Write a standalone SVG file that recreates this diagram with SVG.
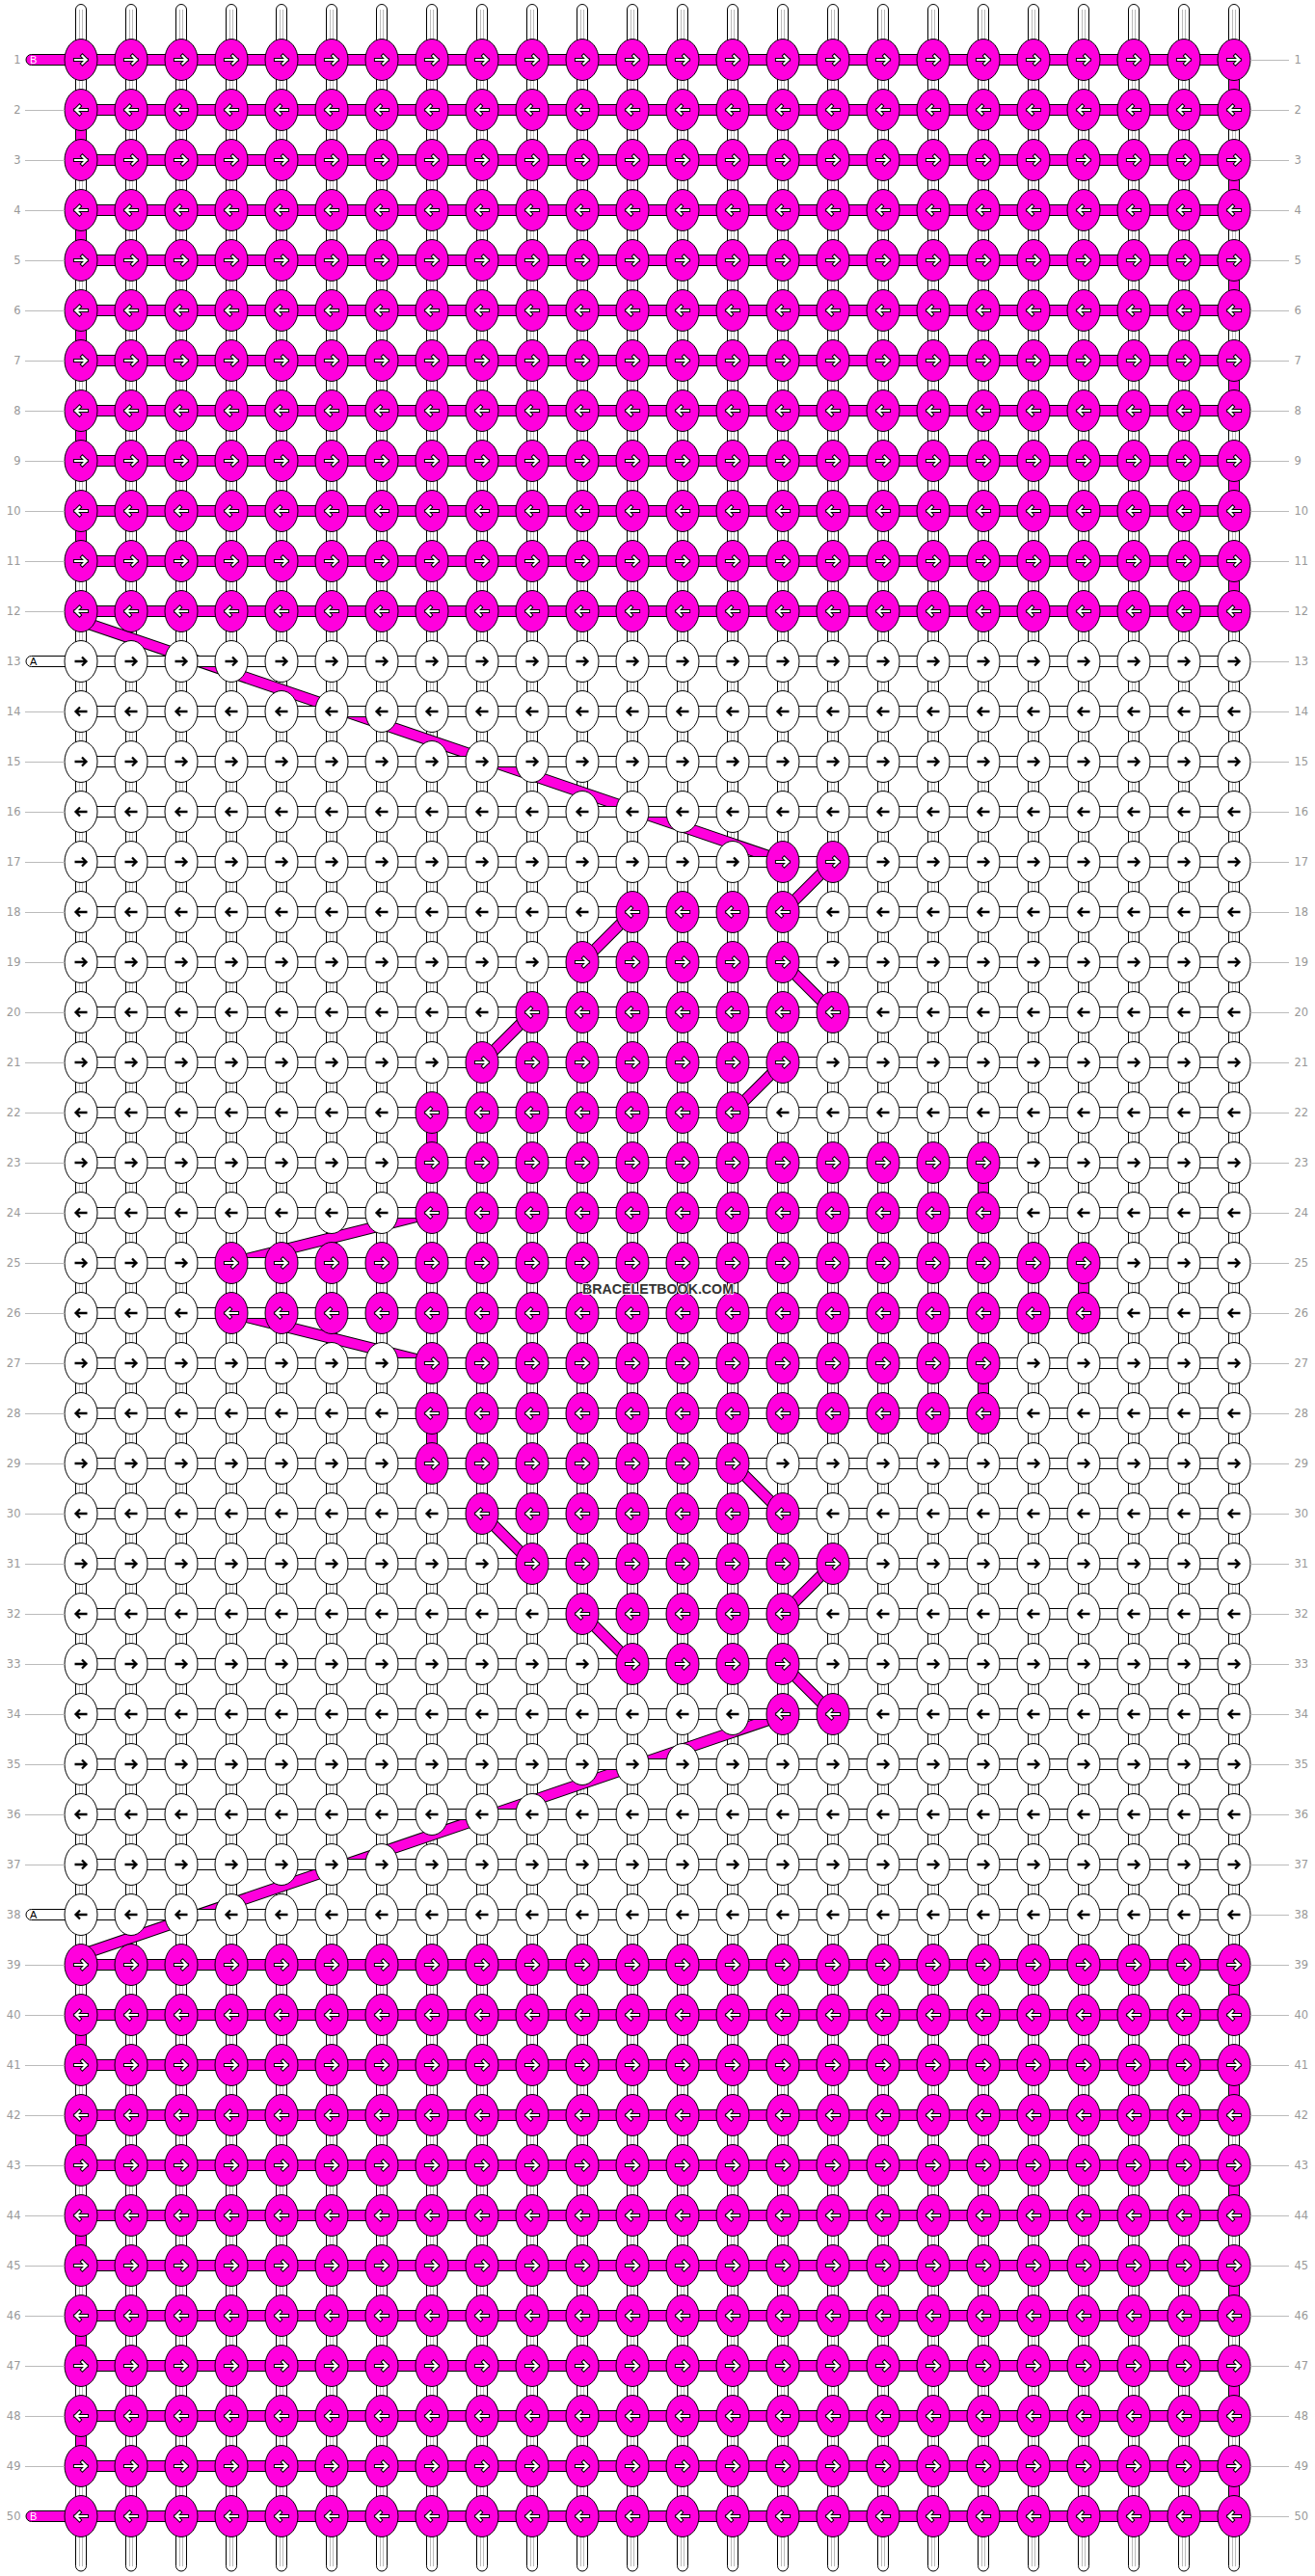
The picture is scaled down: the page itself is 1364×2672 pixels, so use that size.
<svg xmlns="http://www.w3.org/2000/svg" xmlns:xlink="http://www.w3.org/1999/xlink" width="1364" height="2672" viewBox="0 0 1364 2672">
<style>
.vs{fill:#fff;stroke:#000;stroke-width:1}
.vl{stroke:#bbb;stroke-width:1;fill:none}
.hp{fill:#ff00dd;stroke:#000;stroke-width:1}
.hw{fill:#fff;stroke:#000;stroke-width:1}
.kp{fill:#ff00dd;stroke:#000;stroke-width:1}
.kw{fill:#fff;stroke:#000;stroke-width:1}
.ab{fill:none;stroke:#000;stroke-width:2.3}
.ao{fill:none;stroke:#000;stroke-width:4.2;stroke-linecap:square}
.ai{fill:none;stroke:#fff;stroke-width:2.2;stroke-linecap:square}
.db{fill:none;stroke:#000;stroke-width:12}
.dp{fill:none;stroke:#ff00dd;stroke-width:10}
.lb{font-family:"DejaVu Sans",Verdana,sans-serif;font-size:11.5px;fill:#999}
.ln{stroke:#bbb;stroke-width:1;fill:none}
.pt{font-family:"Liberation Sans",Arial,sans-serif;font-size:11px}
</style>
<defs>
<g id="vstr"><rect x="-5.5" y="4.5" width="11" height="2662.5" rx="5.5" class="vs"/><path d="M-1.5,10V2662M1.5,10V2662" class="vl"/></g>
<g id="wR"><ellipse rx="17" ry="21.5" class="kw"/><path d="M-6.5,0H5.5M1,-4.5L5.5,0L1,4.5" class="ab"/></g>
<g id="wL"><ellipse rx="17" ry="21.5" class="kw"/><path d="M6.5,0H-5.5M-1,-4.5L-5.5,0L-1,4.5" class="ab"/></g>
<g id="pR"><ellipse rx="17" ry="21.5" class="kp"/><path d="M-6,0H5.5M1.5,-4L5.5,0L1.5,4" class="ao"/><path d="M-6,0H5.5M1.5,-4L5.5,0L1.5,4" class="ai"/></g>
<g id="pL"><ellipse rx="17" ry="21.5" class="kp"/><path d="M6,0H-5.5M-1.5,-4L-5.5,0L-1.5,4" class="ao"/><path d="M6,0H-5.5M-1.5,-4L-5.5,0L-1.5,4" class="ai"/></g>
<rect id="wp" x="-5.5" y="0" width="11" height="52" class="hp"/>
<rect id="sp" x="84" y="0" width="1196" height="11" class="hp"/>
<rect id="sw" x="84" y="0" width="1196" height="11" class="hw"/>
<rect id="spP" x="27" y="0" width="1253" height="11" rx="5.5" class="hp"/>
<rect id="swP" x="27" y="0" width="1253" height="11" rx="5.5" class="hw"/>
<g id="rowPR"><use href="#pR" x="84"/><use href="#pR" x="136"/><use href="#pR" x="188"/><use href="#pR" x="240"/><use href="#pR" x="292"/><use href="#pR" x="344"/><use href="#pR" x="396"/><use href="#pR" x="448"/><use href="#pR" x="500"/><use href="#pR" x="552"/><use href="#pR" x="604"/><use href="#pR" x="656"/><use href="#pR" x="708"/><use href="#pR" x="760"/><use href="#pR" x="812"/><use href="#pR" x="864"/><use href="#pR" x="916"/><use href="#pR" x="968"/><use href="#pR" x="1020"/><use href="#pR" x="1072"/><use href="#pR" x="1124"/><use href="#pR" x="1176"/><use href="#pR" x="1228"/><use href="#pR" x="1280"/></g>
<g id="rowPL"><use href="#pL" x="84"/><use href="#pL" x="136"/><use href="#pL" x="188"/><use href="#pL" x="240"/><use href="#pL" x="292"/><use href="#pL" x="344"/><use href="#pL" x="396"/><use href="#pL" x="448"/><use href="#pL" x="500"/><use href="#pL" x="552"/><use href="#pL" x="604"/><use href="#pL" x="656"/><use href="#pL" x="708"/><use href="#pL" x="760"/><use href="#pL" x="812"/><use href="#pL" x="864"/><use href="#pL" x="916"/><use href="#pL" x="968"/><use href="#pL" x="1020"/><use href="#pL" x="1072"/><use href="#pL" x="1124"/><use href="#pL" x="1176"/><use href="#pL" x="1228"/><use href="#pL" x="1280"/></g>
<g id="rowWR"><use href="#wR" x="84"/><use href="#wR" x="136"/><use href="#wR" x="188"/><use href="#wR" x="240"/><use href="#wR" x="292"/><use href="#wR" x="344"/><use href="#wR" x="396"/><use href="#wR" x="448"/><use href="#wR" x="500"/><use href="#wR" x="552"/><use href="#wR" x="604"/><use href="#wR" x="656"/><use href="#wR" x="708"/><use href="#wR" x="760"/><use href="#wR" x="812"/><use href="#wR" x="864"/><use href="#wR" x="916"/><use href="#wR" x="968"/><use href="#wR" x="1020"/><use href="#wR" x="1072"/><use href="#wR" x="1124"/><use href="#wR" x="1176"/><use href="#wR" x="1228"/><use href="#wR" x="1280"/></g>
<g id="rowWL"><use href="#wL" x="84"/><use href="#wL" x="136"/><use href="#wL" x="188"/><use href="#wL" x="240"/><use href="#wL" x="292"/><use href="#wL" x="344"/><use href="#wL" x="396"/><use href="#wL" x="448"/><use href="#wL" x="500"/><use href="#wL" x="552"/><use href="#wL" x="604"/><use href="#wL" x="656"/><use href="#wL" x="708"/><use href="#wL" x="760"/><use href="#wL" x="812"/><use href="#wL" x="864"/><use href="#wL" x="916"/><use href="#wL" x="968"/><use href="#wL" x="1020"/><use href="#wL" x="1072"/><use href="#wL" x="1124"/><use href="#wL" x="1176"/><use href="#wL" x="1228"/><use href="#wL" x="1280"/></g>
</defs>
<rect width="1364" height="2672" fill="#fff"/>
<g id="connectors">
<g id="vertical-strings"><use href="#vstr" x="84"/><use href="#vstr" x="136"/><use href="#vstr" x="188"/><use href="#vstr" x="240"/><use href="#vstr" x="292"/><use href="#vstr" x="344"/><use href="#vstr" x="396"/><use href="#vstr" x="448"/><use href="#vstr" x="500"/><use href="#vstr" x="552"/><use href="#vstr" x="604"/><use href="#vstr" x="656"/><use href="#vstr" x="708"/><use href="#vstr" x="760"/><use href="#vstr" x="812"/><use href="#vstr" x="864"/><use href="#vstr" x="916"/><use href="#vstr" x="968"/><use href="#vstr" x="1020"/><use href="#vstr" x="1072"/><use href="#vstr" x="1124"/><use href="#vstr" x="1176"/><use href="#vstr" x="1228"/><use href="#vstr" x="1280"/></g>
<g id="diagonals">
<path class="db" d="M86,645L812,893M864,894L812,946M656,946L604,998M812,998L864,1050M552,1050L500,1102M812,1102L760,1154M448,1258L240,1310M240,1362L448,1414M760,1518L812,1570M500,1570L552,1622M864,1622L812,1674M604,1674L656,1726M812,1726L864,1778M812,1779L86,2027"/>
<path class="dp" d="M86,645L812,893M864,894L812,946M656,946L604,998M812,998L864,1050M552,1050L500,1102M812,1102L760,1154M448,1258L240,1310M240,1362L448,1414M760,1518L812,1570M500,1570L552,1622M864,1622L812,1674M604,1674L656,1726M812,1726L864,1778M812,1779L86,2027"/>
</g>
<g id="wraps">
<use href="#wp" x="1280" y="62"/><use href="#wp" x="1280" y="166"/><use href="#wp" x="1280" y="270"/><use href="#wp" x="1280" y="374"/><use href="#wp" x="1280" y="478"/><use href="#wp" x="1280" y="582"/>
<use href="#wp" x="84" y="114"/><use href="#wp" x="84" y="218"/><use href="#wp" x="84" y="322"/><use href="#wp" x="84" y="426"/><use href="#wp" x="84" y="530"/>
<use href="#wp" x="1280" y="2038"/><use href="#wp" x="1280" y="2142"/><use href="#wp" x="1280" y="2246"/><use href="#wp" x="1280" y="2350"/><use href="#wp" x="1280" y="2454"/><use href="#wp" x="1280" y="2558"/>
<use href="#wp" x="84" y="2090"/><use href="#wp" x="84" y="2194"/><use href="#wp" x="84" y="2298"/><use href="#wp" x="84" y="2402"/><use href="#wp" x="84" y="2506"/>
<use href="#wp" x="448" y="1154"/><use href="#wp" x="1020" y="1206"/><use href="#wp" x="1124" y="1310"/><use href="#wp" x="1020" y="1414"/><use href="#wp" x="448" y="1466"/>
</g>
<g id="row-strings">
<use href="#spP" y="56.5"/><use href="#sp" y="108.5"/><use href="#sp" y="160.5"/><use href="#sp" y="212.5"/><use href="#sp" y="264.5"/><use href="#sp" y="316.5"/><use href="#sp" y="368.5"/><use href="#sp" y="420.5"/><use href="#sp" y="472.5"/><use href="#sp" y="524.5"/><use href="#sp" y="576.5"/><use href="#sp" y="628.5"/>
<use href="#swP" y="680.5"/><use href="#sw" y="732.5"/><use href="#sw" y="784.5"/><use href="#sw" y="836.5"/><use href="#sw" y="888.5"/><use href="#sw" y="940.5"/><use href="#sw" y="992.5"/><use href="#sw" y="1044.5"/><use href="#sw" y="1096.5"/><use href="#sw" y="1148.5"/><use href="#sw" y="1200.5"/><use href="#sw" y="1252.5"/><use href="#sw" y="1304.5"/><use href="#sw" y="1356.5"/><use href="#sw" y="1408.5"/><use href="#sw" y="1460.5"/><use href="#sw" y="1512.5"/><use href="#sw" y="1564.5"/><use href="#sw" y="1616.5"/><use href="#sw" y="1668.5"/><use href="#sw" y="1720.5"/><use href="#sw" y="1772.5"/><use href="#sw" y="1824.5"/><use href="#sw" y="1876.5"/><use href="#sw" y="1928.5"/><use href="#swP" y="1980.5"/>
<use href="#sp" y="2032.5"/><use href="#sp" y="2084.5"/><use href="#sp" y="2136.5"/><use href="#sp" y="2188.5"/><use href="#sp" y="2240.5"/><use href="#sp" y="2292.5"/><use href="#sp" y="2344.5"/><use href="#sp" y="2396.5"/><use href="#sp" y="2448.5"/><use href="#sp" y="2500.5"/><use href="#sp" y="2552.5"/><use href="#spP" y="2604.5"/>
</g>
</g>
<g id="knots">
<g id="row1"><use href="#rowPR" y="62"/></g>
<g id="row2"><use href="#rowPL" y="114"/></g>
<g id="row3"><use href="#rowPR" y="166"/></g>
<g id="row4"><use href="#rowPL" y="218"/></g>
<g id="row5"><use href="#rowPR" y="270"/></g>
<g id="row6"><use href="#rowPL" y="322"/></g>
<g id="row7"><use href="#rowPR" y="374"/></g>
<g id="row8"><use href="#rowPL" y="426"/></g>
<g id="row9"><use href="#rowPR" y="478"/></g>
<g id="row10"><use href="#rowPL" y="530"/></g>
<g id="row11"><use href="#rowPR" y="582"/></g>
<g id="row12"><use href="#rowPL" y="634"/></g>
<g id="row13"><use href="#rowWR" y="686"/></g>
<g id="row14"><use href="#rowWL" y="738"/></g>
<g id="row15"><use href="#rowWR" y="790"/></g>
<g id="row16"><use href="#rowWL" y="842"/></g>
<g id="row17" transform="translate(0,894)"><use id="k17-1" href="#wR" x="84"/><use id="k17-2" href="#wR" x="136"/><use id="k17-3" href="#wR" x="188"/><use id="k17-4" href="#wR" x="240"/><use id="k17-5" href="#wR" x="292"/><use id="k17-6" href="#wR" x="344"/><use id="k17-7" href="#wR" x="396"/><use id="k17-8" href="#wR" x="448"/><use id="k17-9" href="#wR" x="500"/><use id="k17-10" href="#wR" x="552"/><use id="k17-11" href="#wR" x="604"/><use id="k17-12" href="#wR" x="656"/><use id="k17-13" href="#wR" x="708"/><use id="k17-14" href="#wR" x="760"/><use id="k17-15" href="#pR" x="812"/><use id="k17-16" href="#pR" x="864"/><use id="k17-17" href="#wR" x="916"/><use id="k17-18" href="#wR" x="968"/><use id="k17-19" href="#wR" x="1020"/><use id="k17-20" href="#wR" x="1072"/><use id="k17-21" href="#wR" x="1124"/><use id="k17-22" href="#wR" x="1176"/><use id="k17-23" href="#wR" x="1228"/><use id="k17-24" href="#wR" x="1280"/></g>
<g id="row18" transform="translate(0,946)"><use id="k18-1" href="#wL" x="84"/><use id="k18-2" href="#wL" x="136"/><use id="k18-3" href="#wL" x="188"/><use id="k18-4" href="#wL" x="240"/><use id="k18-5" href="#wL" x="292"/><use id="k18-6" href="#wL" x="344"/><use id="k18-7" href="#wL" x="396"/><use id="k18-8" href="#wL" x="448"/><use id="k18-9" href="#wL" x="500"/><use id="k18-10" href="#wL" x="552"/><use id="k18-11" href="#wL" x="604"/><use id="k18-12" href="#pL" x="656"/><use id="k18-13" href="#pL" x="708"/><use id="k18-14" href="#pL" x="760"/><use id="k18-15" href="#pL" x="812"/><use id="k18-16" href="#wL" x="864"/><use id="k18-17" href="#wL" x="916"/><use id="k18-18" href="#wL" x="968"/><use id="k18-19" href="#wL" x="1020"/><use id="k18-20" href="#wL" x="1072"/><use id="k18-21" href="#wL" x="1124"/><use id="k18-22" href="#wL" x="1176"/><use id="k18-23" href="#wL" x="1228"/><use id="k18-24" href="#wL" x="1280"/></g>
<g id="row19" transform="translate(0,998)"><use id="k19-1" href="#wR" x="84"/><use id="k19-2" href="#wR" x="136"/><use id="k19-3" href="#wR" x="188"/><use id="k19-4" href="#wR" x="240"/><use id="k19-5" href="#wR" x="292"/><use id="k19-6" href="#wR" x="344"/><use id="k19-7" href="#wR" x="396"/><use id="k19-8" href="#wR" x="448"/><use id="k19-9" href="#wR" x="500"/><use id="k19-10" href="#wR" x="552"/><use id="k19-11" href="#pR" x="604"/><use id="k19-12" href="#pR" x="656"/><use id="k19-13" href="#pR" x="708"/><use id="k19-14" href="#pR" x="760"/><use id="k19-15" href="#pR" x="812"/><use id="k19-16" href="#wR" x="864"/><use id="k19-17" href="#wR" x="916"/><use id="k19-18" href="#wR" x="968"/><use id="k19-19" href="#wR" x="1020"/><use id="k19-20" href="#wR" x="1072"/><use id="k19-21" href="#wR" x="1124"/><use id="k19-22" href="#wR" x="1176"/><use id="k19-23" href="#wR" x="1228"/><use id="k19-24" href="#wR" x="1280"/></g>
<g id="row20" transform="translate(0,1050)"><use id="k20-1" href="#wL" x="84"/><use id="k20-2" href="#wL" x="136"/><use id="k20-3" href="#wL" x="188"/><use id="k20-4" href="#wL" x="240"/><use id="k20-5" href="#wL" x="292"/><use id="k20-6" href="#wL" x="344"/><use id="k20-7" href="#wL" x="396"/><use id="k20-8" href="#wL" x="448"/><use id="k20-9" href="#wL" x="500"/><use id="k20-10" href="#pL" x="552"/><use id="k20-11" href="#pL" x="604"/><use id="k20-12" href="#pL" x="656"/><use id="k20-13" href="#pL" x="708"/><use id="k20-14" href="#pL" x="760"/><use id="k20-15" href="#pL" x="812"/><use id="k20-16" href="#pL" x="864"/><use id="k20-17" href="#wL" x="916"/><use id="k20-18" href="#wL" x="968"/><use id="k20-19" href="#wL" x="1020"/><use id="k20-20" href="#wL" x="1072"/><use id="k20-21" href="#wL" x="1124"/><use id="k20-22" href="#wL" x="1176"/><use id="k20-23" href="#wL" x="1228"/><use id="k20-24" href="#wL" x="1280"/></g>
<g id="row21" transform="translate(0,1102)"><use id="k21-1" href="#wR" x="84"/><use id="k21-2" href="#wR" x="136"/><use id="k21-3" href="#wR" x="188"/><use id="k21-4" href="#wR" x="240"/><use id="k21-5" href="#wR" x="292"/><use id="k21-6" href="#wR" x="344"/><use id="k21-7" href="#wR" x="396"/><use id="k21-8" href="#wR" x="448"/><use id="k21-9" href="#pR" x="500"/><use id="k21-10" href="#pR" x="552"/><use id="k21-11" href="#pR" x="604"/><use id="k21-12" href="#pR" x="656"/><use id="k21-13" href="#pR" x="708"/><use id="k21-14" href="#pR" x="760"/><use id="k21-15" href="#pR" x="812"/><use id="k21-16" href="#wR" x="864"/><use id="k21-17" href="#wR" x="916"/><use id="k21-18" href="#wR" x="968"/><use id="k21-19" href="#wR" x="1020"/><use id="k21-20" href="#wR" x="1072"/><use id="k21-21" href="#wR" x="1124"/><use id="k21-22" href="#wR" x="1176"/><use id="k21-23" href="#wR" x="1228"/><use id="k21-24" href="#wR" x="1280"/></g>
<g id="row22" transform="translate(0,1154)"><use id="k22-1" href="#wL" x="84"/><use id="k22-2" href="#wL" x="136"/><use id="k22-3" href="#wL" x="188"/><use id="k22-4" href="#wL" x="240"/><use id="k22-5" href="#wL" x="292"/><use id="k22-6" href="#wL" x="344"/><use id="k22-7" href="#wL" x="396"/><use id="k22-8" href="#pL" x="448"/><use id="k22-9" href="#pL" x="500"/><use id="k22-10" href="#pL" x="552"/><use id="k22-11" href="#pL" x="604"/><use id="k22-12" href="#pL" x="656"/><use id="k22-13" href="#pL" x="708"/><use id="k22-14" href="#pL" x="760"/><use id="k22-15" href="#wL" x="812"/><use id="k22-16" href="#wL" x="864"/><use id="k22-17" href="#wL" x="916"/><use id="k22-18" href="#wL" x="968"/><use id="k22-19" href="#wL" x="1020"/><use id="k22-20" href="#wL" x="1072"/><use id="k22-21" href="#wL" x="1124"/><use id="k22-22" href="#wL" x="1176"/><use id="k22-23" href="#wL" x="1228"/><use id="k22-24" href="#wL" x="1280"/></g>
<g id="row23" transform="translate(0,1206)"><use id="k23-1" href="#wR" x="84"/><use id="k23-2" href="#wR" x="136"/><use id="k23-3" href="#wR" x="188"/><use id="k23-4" href="#wR" x="240"/><use id="k23-5" href="#wR" x="292"/><use id="k23-6" href="#wR" x="344"/><use id="k23-7" href="#wR" x="396"/><use id="k23-8" href="#pR" x="448"/><use id="k23-9" href="#pR" x="500"/><use id="k23-10" href="#pR" x="552"/><use id="k23-11" href="#pR" x="604"/><use id="k23-12" href="#pR" x="656"/><use id="k23-13" href="#pR" x="708"/><use id="k23-14" href="#pR" x="760"/><use id="k23-15" href="#pR" x="812"/><use id="k23-16" href="#pR" x="864"/><use id="k23-17" href="#pR" x="916"/><use id="k23-18" href="#pR" x="968"/><use id="k23-19" href="#pR" x="1020"/><use id="k23-20" href="#wR" x="1072"/><use id="k23-21" href="#wR" x="1124"/><use id="k23-22" href="#wR" x="1176"/><use id="k23-23" href="#wR" x="1228"/><use id="k23-24" href="#wR" x="1280"/></g>
<g id="row24" transform="translate(0,1258)"><use id="k24-1" href="#wL" x="84"/><use id="k24-2" href="#wL" x="136"/><use id="k24-3" href="#wL" x="188"/><use id="k24-4" href="#wL" x="240"/><use id="k24-5" href="#wL" x="292"/><use id="k24-6" href="#wL" x="344"/><use id="k24-7" href="#wL" x="396"/><use id="k24-8" href="#pL" x="448"/><use id="k24-9" href="#pL" x="500"/><use id="k24-10" href="#pL" x="552"/><use id="k24-11" href="#pL" x="604"/><use id="k24-12" href="#pL" x="656"/><use id="k24-13" href="#pL" x="708"/><use id="k24-14" href="#pL" x="760"/><use id="k24-15" href="#pL" x="812"/><use id="k24-16" href="#pL" x="864"/><use id="k24-17" href="#pL" x="916"/><use id="k24-18" href="#pL" x="968"/><use id="k24-19" href="#pL" x="1020"/><use id="k24-20" href="#wL" x="1072"/><use id="k24-21" href="#wL" x="1124"/><use id="k24-22" href="#wL" x="1176"/><use id="k24-23" href="#wL" x="1228"/><use id="k24-24" href="#wL" x="1280"/></g>
<g id="row25" transform="translate(0,1310)"><use id="k25-1" href="#wR" x="84"/><use id="k25-2" href="#wR" x="136"/><use id="k25-3" href="#wR" x="188"/><use id="k25-4" href="#pR" x="240"/><use id="k25-5" href="#pR" x="292"/><use id="k25-6" href="#pR" x="344"/><use id="k25-7" href="#pR" x="396"/><use id="k25-8" href="#pR" x="448"/><use id="k25-9" href="#pR" x="500"/><use id="k25-10" href="#pR" x="552"/><use id="k25-11" href="#pR" x="604"/><use id="k25-12" href="#pR" x="656"/><use id="k25-13" href="#pR" x="708"/><use id="k25-14" href="#pR" x="760"/><use id="k25-15" href="#pR" x="812"/><use id="k25-16" href="#pR" x="864"/><use id="k25-17" href="#pR" x="916"/><use id="k25-18" href="#pR" x="968"/><use id="k25-19" href="#pR" x="1020"/><use id="k25-20" href="#pR" x="1072"/><use id="k25-21" href="#pR" x="1124"/><use id="k25-22" href="#wR" x="1176"/><use id="k25-23" href="#wR" x="1228"/><use id="k25-24" href="#wR" x="1280"/></g>
<g id="row26" transform="translate(0,1362)"><use id="k26-1" href="#wL" x="84"/><use id="k26-2" href="#wL" x="136"/><use id="k26-3" href="#wL" x="188"/><use id="k26-4" href="#pL" x="240"/><use id="k26-5" href="#pL" x="292"/><use id="k26-6" href="#pL" x="344"/><use id="k26-7" href="#pL" x="396"/><use id="k26-8" href="#pL" x="448"/><use id="k26-9" href="#pL" x="500"/><use id="k26-10" href="#pL" x="552"/><use id="k26-11" href="#pL" x="604"/><use id="k26-12" href="#pL" x="656"/><use id="k26-13" href="#pL" x="708"/><use id="k26-14" href="#pL" x="760"/><use id="k26-15" href="#pL" x="812"/><use id="k26-16" href="#pL" x="864"/><use id="k26-17" href="#pL" x="916"/><use id="k26-18" href="#pL" x="968"/><use id="k26-19" href="#pL" x="1020"/><use id="k26-20" href="#pL" x="1072"/><use id="k26-21" href="#pL" x="1124"/><use id="k26-22" href="#wL" x="1176"/><use id="k26-23" href="#wL" x="1228"/><use id="k26-24" href="#wL" x="1280"/></g>
<g id="row27" transform="translate(0,1414)"><use id="k27-1" href="#wR" x="84"/><use id="k27-2" href="#wR" x="136"/><use id="k27-3" href="#wR" x="188"/><use id="k27-4" href="#wR" x="240"/><use id="k27-5" href="#wR" x="292"/><use id="k27-6" href="#wR" x="344"/><use id="k27-7" href="#wR" x="396"/><use id="k27-8" href="#pR" x="448"/><use id="k27-9" href="#pR" x="500"/><use id="k27-10" href="#pR" x="552"/><use id="k27-11" href="#pR" x="604"/><use id="k27-12" href="#pR" x="656"/><use id="k27-13" href="#pR" x="708"/><use id="k27-14" href="#pR" x="760"/><use id="k27-15" href="#pR" x="812"/><use id="k27-16" href="#pR" x="864"/><use id="k27-17" href="#pR" x="916"/><use id="k27-18" href="#pR" x="968"/><use id="k27-19" href="#pR" x="1020"/><use id="k27-20" href="#wR" x="1072"/><use id="k27-21" href="#wR" x="1124"/><use id="k27-22" href="#wR" x="1176"/><use id="k27-23" href="#wR" x="1228"/><use id="k27-24" href="#wR" x="1280"/></g>
<g id="row28" transform="translate(0,1466)"><use id="k28-1" href="#wL" x="84"/><use id="k28-2" href="#wL" x="136"/><use id="k28-3" href="#wL" x="188"/><use id="k28-4" href="#wL" x="240"/><use id="k28-5" href="#wL" x="292"/><use id="k28-6" href="#wL" x="344"/><use id="k28-7" href="#wL" x="396"/><use id="k28-8" href="#pL" x="448"/><use id="k28-9" href="#pL" x="500"/><use id="k28-10" href="#pL" x="552"/><use id="k28-11" href="#pL" x="604"/><use id="k28-12" href="#pL" x="656"/><use id="k28-13" href="#pL" x="708"/><use id="k28-14" href="#pL" x="760"/><use id="k28-15" href="#pL" x="812"/><use id="k28-16" href="#pL" x="864"/><use id="k28-17" href="#pL" x="916"/><use id="k28-18" href="#pL" x="968"/><use id="k28-19" href="#pL" x="1020"/><use id="k28-20" href="#wL" x="1072"/><use id="k28-21" href="#wL" x="1124"/><use id="k28-22" href="#wL" x="1176"/><use id="k28-23" href="#wL" x="1228"/><use id="k28-24" href="#wL" x="1280"/></g>
<g id="row29" transform="translate(0,1518)"><use id="k29-1" href="#wR" x="84"/><use id="k29-2" href="#wR" x="136"/><use id="k29-3" href="#wR" x="188"/><use id="k29-4" href="#wR" x="240"/><use id="k29-5" href="#wR" x="292"/><use id="k29-6" href="#wR" x="344"/><use id="k29-7" href="#wR" x="396"/><use id="k29-8" href="#pR" x="448"/><use id="k29-9" href="#pR" x="500"/><use id="k29-10" href="#pR" x="552"/><use id="k29-11" href="#pR" x="604"/><use id="k29-12" href="#pR" x="656"/><use id="k29-13" href="#pR" x="708"/><use id="k29-14" href="#pR" x="760"/><use id="k29-15" href="#wR" x="812"/><use id="k29-16" href="#wR" x="864"/><use id="k29-17" href="#wR" x="916"/><use id="k29-18" href="#wR" x="968"/><use id="k29-19" href="#wR" x="1020"/><use id="k29-20" href="#wR" x="1072"/><use id="k29-21" href="#wR" x="1124"/><use id="k29-22" href="#wR" x="1176"/><use id="k29-23" href="#wR" x="1228"/><use id="k29-24" href="#wR" x="1280"/></g>
<g id="row30" transform="translate(0,1570)"><use id="k30-1" href="#wL" x="84"/><use id="k30-2" href="#wL" x="136"/><use id="k30-3" href="#wL" x="188"/><use id="k30-4" href="#wL" x="240"/><use id="k30-5" href="#wL" x="292"/><use id="k30-6" href="#wL" x="344"/><use id="k30-7" href="#wL" x="396"/><use id="k30-8" href="#wL" x="448"/><use id="k30-9" href="#pL" x="500"/><use id="k30-10" href="#pL" x="552"/><use id="k30-11" href="#pL" x="604"/><use id="k30-12" href="#pL" x="656"/><use id="k30-13" href="#pL" x="708"/><use id="k30-14" href="#pL" x="760"/><use id="k30-15" href="#pL" x="812"/><use id="k30-16" href="#wL" x="864"/><use id="k30-17" href="#wL" x="916"/><use id="k30-18" href="#wL" x="968"/><use id="k30-19" href="#wL" x="1020"/><use id="k30-20" href="#wL" x="1072"/><use id="k30-21" href="#wL" x="1124"/><use id="k30-22" href="#wL" x="1176"/><use id="k30-23" href="#wL" x="1228"/><use id="k30-24" href="#wL" x="1280"/></g>
<g id="row31" transform="translate(0,1622)"><use id="k31-1" href="#wR" x="84"/><use id="k31-2" href="#wR" x="136"/><use id="k31-3" href="#wR" x="188"/><use id="k31-4" href="#wR" x="240"/><use id="k31-5" href="#wR" x="292"/><use id="k31-6" href="#wR" x="344"/><use id="k31-7" href="#wR" x="396"/><use id="k31-8" href="#wR" x="448"/><use id="k31-9" href="#wR" x="500"/><use id="k31-10" href="#pR" x="552"/><use id="k31-11" href="#pR" x="604"/><use id="k31-12" href="#pR" x="656"/><use id="k31-13" href="#pR" x="708"/><use id="k31-14" href="#pR" x="760"/><use id="k31-15" href="#pR" x="812"/><use id="k31-16" href="#pR" x="864"/><use id="k31-17" href="#wR" x="916"/><use id="k31-18" href="#wR" x="968"/><use id="k31-19" href="#wR" x="1020"/><use id="k31-20" href="#wR" x="1072"/><use id="k31-21" href="#wR" x="1124"/><use id="k31-22" href="#wR" x="1176"/><use id="k31-23" href="#wR" x="1228"/><use id="k31-24" href="#wR" x="1280"/></g>
<g id="row32" transform="translate(0,1674)"><use id="k32-1" href="#wL" x="84"/><use id="k32-2" href="#wL" x="136"/><use id="k32-3" href="#wL" x="188"/><use id="k32-4" href="#wL" x="240"/><use id="k32-5" href="#wL" x="292"/><use id="k32-6" href="#wL" x="344"/><use id="k32-7" href="#wL" x="396"/><use id="k32-8" href="#wL" x="448"/><use id="k32-9" href="#wL" x="500"/><use id="k32-10" href="#wL" x="552"/><use id="k32-11" href="#pL" x="604"/><use id="k32-12" href="#pL" x="656"/><use id="k32-13" href="#pL" x="708"/><use id="k32-14" href="#pL" x="760"/><use id="k32-15" href="#pL" x="812"/><use id="k32-16" href="#wL" x="864"/><use id="k32-17" href="#wL" x="916"/><use id="k32-18" href="#wL" x="968"/><use id="k32-19" href="#wL" x="1020"/><use id="k32-20" href="#wL" x="1072"/><use id="k32-21" href="#wL" x="1124"/><use id="k32-22" href="#wL" x="1176"/><use id="k32-23" href="#wL" x="1228"/><use id="k32-24" href="#wL" x="1280"/></g>
<g id="row33" transform="translate(0,1726)"><use id="k33-1" href="#wR" x="84"/><use id="k33-2" href="#wR" x="136"/><use id="k33-3" href="#wR" x="188"/><use id="k33-4" href="#wR" x="240"/><use id="k33-5" href="#wR" x="292"/><use id="k33-6" href="#wR" x="344"/><use id="k33-7" href="#wR" x="396"/><use id="k33-8" href="#wR" x="448"/><use id="k33-9" href="#wR" x="500"/><use id="k33-10" href="#wR" x="552"/><use id="k33-11" href="#wR" x="604"/><use id="k33-12" href="#pR" x="656"/><use id="k33-13" href="#pR" x="708"/><use id="k33-14" href="#pR" x="760"/><use id="k33-15" href="#pR" x="812"/><use id="k33-16" href="#wR" x="864"/><use id="k33-17" href="#wR" x="916"/><use id="k33-18" href="#wR" x="968"/><use id="k33-19" href="#wR" x="1020"/><use id="k33-20" href="#wR" x="1072"/><use id="k33-21" href="#wR" x="1124"/><use id="k33-22" href="#wR" x="1176"/><use id="k33-23" href="#wR" x="1228"/><use id="k33-24" href="#wR" x="1280"/></g>
<g id="row34" transform="translate(0,1778)"><use id="k34-1" href="#wL" x="84"/><use id="k34-2" href="#wL" x="136"/><use id="k34-3" href="#wL" x="188"/><use id="k34-4" href="#wL" x="240"/><use id="k34-5" href="#wL" x="292"/><use id="k34-6" href="#wL" x="344"/><use id="k34-7" href="#wL" x="396"/><use id="k34-8" href="#wL" x="448"/><use id="k34-9" href="#wL" x="500"/><use id="k34-10" href="#wL" x="552"/><use id="k34-11" href="#wL" x="604"/><use id="k34-12" href="#wL" x="656"/><use id="k34-13" href="#wL" x="708"/><use id="k34-14" href="#wL" x="760"/><use id="k34-15" href="#pL" x="812"/><use id="k34-16" href="#pL" x="864"/><use id="k34-17" href="#wL" x="916"/><use id="k34-18" href="#wL" x="968"/><use id="k34-19" href="#wL" x="1020"/><use id="k34-20" href="#wL" x="1072"/><use id="k34-21" href="#wL" x="1124"/><use id="k34-22" href="#wL" x="1176"/><use id="k34-23" href="#wL" x="1228"/><use id="k34-24" href="#wL" x="1280"/></g>
<g id="row35"><use href="#rowWR" y="1830"/></g>
<g id="row36"><use href="#rowWL" y="1882"/></g>
<g id="row37"><use href="#rowWR" y="1934"/></g>
<g id="row38"><use href="#rowWL" y="1986"/></g>
<g id="row39"><use href="#rowPR" y="2038"/></g>
<g id="row40"><use href="#rowPL" y="2090"/></g>
<g id="row41"><use href="#rowPR" y="2142"/></g>
<g id="row42"><use href="#rowPL" y="2194"/></g>
<g id="row43"><use href="#rowPR" y="2246"/></g>
<g id="row44"><use href="#rowPL" y="2298"/></g>
<g id="row45"><use href="#rowPR" y="2350"/></g>
<g id="row46"><use href="#rowPL" y="2402"/></g>
<g id="row47"><use href="#rowPR" y="2454"/></g>
<g id="row48"><use href="#rowPL" y="2506"/></g>
<g id="row49"><use href="#rowPR" y="2558"/></g>
<g id="row50"><use href="#rowPL" y="2610"/></g>
</g>
<g id="string-labels" class="pt">
<text x="31" y="66" fill="#fff">B</text>
<text x="31" y="690" fill="#000">A</text>
<text x="31" y="1990" fill="#000">A</text>
<text x="31" y="2614" fill="#fff">B</text>
</g>
<g id="row-labels">
<path class="ln" d="M26,114.5h41M26,166.5h41M26,218.5h41M26,270.5h41M26,322.5h41M26,374.5h41M26,426.5h41M26,478.5h41M26,530.5h41M26,582.5h41M26,634.5h41M26,738.5h41M26,790.5h41M26,842.5h41M26,894.5h41M26,946.5h41M26,998.5h41M26,1050.5h41M26,1102.5h41M26,1154.5h41M26,1206.5h41M26,1258.5h41M26,1310.5h41M26,1362.5h41M26,1414.5h41M26,1466.5h41M26,1518.5h41M26,1570.5h41M26,1622.5h41M26,1674.5h41M26,1726.5h41M26,1778.5h41M26,1830.5h41M26,1882.5h41M26,1934.5h41M26,2038.5h41M26,2090.5h41M26,2142.5h41M26,2194.5h41M26,2246.5h41M26,2298.5h41M26,2350.5h41M26,2402.5h41M26,2454.5h41M26,2506.5h41M26,2558.5h41"/>
<path class="ln" d="M1297,62.5h40M1297,114.5h40M1297,166.5h40M1297,218.5h40M1297,270.5h40M1297,322.5h40M1297,374.5h40M1297,426.5h40M1297,478.5h40M1297,530.5h40M1297,582.5h40M1297,634.5h40M1297,686.5h40M1297,738.5h40M1297,790.5h40M1297,842.5h40M1297,894.5h40M1297,946.5h40M1297,998.5h40M1297,1050.5h40M1297,1102.5h40M1297,1154.5h40M1297,1206.5h40M1297,1258.5h40M1297,1310.5h40M1297,1362.5h40M1297,1414.5h40M1297,1466.5h40M1297,1518.5h40M1297,1570.5h40M1297,1622.5h40M1297,1674.5h40M1297,1726.5h40M1297,1778.5h40M1297,1830.5h40M1297,1882.5h40M1297,1934.5h40M1297,1986.5h40M1297,2038.5h40M1297,2090.5h40M1297,2142.5h40M1297,2194.5h40M1297,2246.5h40M1297,2298.5h40M1297,2350.5h40M1297,2402.5h40M1297,2454.5h40M1297,2506.5h40M1297,2558.5h40M1297,2610.5h40"/>
<g class="lb" text-anchor="end">
<text x="21.5" y="66">1</text><text x="21.5" y="118">2</text><text x="21.5" y="170">3</text><text x="21.5" y="222">4</text><text x="21.5" y="274">5</text><text x="21.5" y="326">6</text><text x="21.5" y="378">7</text><text x="21.5" y="430">8</text><text x="21.5" y="482">9</text><text x="21.5" y="534">10</text><text x="21.5" y="586">11</text><text x="21.5" y="638">12</text><text x="21.5" y="690">13</text><text x="21.5" y="742">14</text><text x="21.5" y="794">15</text><text x="21.5" y="846">16</text><text x="21.5" y="898">17</text><text x="21.5" y="950">18</text><text x="21.5" y="1002">19</text><text x="21.5" y="1054">20</text><text x="21.5" y="1106">21</text><text x="21.5" y="1158">22</text><text x="21.5" y="1210">23</text><text x="21.5" y="1262">24</text><text x="21.5" y="1314">25</text><text x="21.5" y="1366">26</text><text x="21.5" y="1418">27</text><text x="21.5" y="1470">28</text><text x="21.5" y="1522">29</text><text x="21.5" y="1574">30</text><text x="21.5" y="1626">31</text><text x="21.5" y="1678">32</text><text x="21.5" y="1730">33</text><text x="21.5" y="1782">34</text><text x="21.5" y="1834">35</text><text x="21.5" y="1886">36</text><text x="21.5" y="1938">37</text><text x="21.5" y="1990">38</text><text x="21.5" y="2042">39</text><text x="21.5" y="2094">40</text><text x="21.5" y="2146">41</text><text x="21.5" y="2198">42</text><text x="21.5" y="2250">43</text><text x="21.5" y="2302">44</text><text x="21.5" y="2354">45</text><text x="21.5" y="2406">46</text><text x="21.5" y="2458">47</text><text x="21.5" y="2510">48</text><text x="21.5" y="2562">49</text><text x="21.5" y="2614">50</text>
</g>
<g class="lb">
<text x="1342.5" y="66">1</text><text x="1342.5" y="118">2</text><text x="1342.5" y="170">3</text><text x="1342.5" y="222">4</text><text x="1342.5" y="274">5</text><text x="1342.5" y="326">6</text><text x="1342.5" y="378">7</text><text x="1342.5" y="430">8</text><text x="1342.5" y="482">9</text><text x="1342.5" y="534">10</text><text x="1342.5" y="586">11</text><text x="1342.5" y="638">12</text><text x="1342.5" y="690">13</text><text x="1342.5" y="742">14</text><text x="1342.5" y="794">15</text><text x="1342.5" y="846">16</text><text x="1342.5" y="898">17</text><text x="1342.5" y="950">18</text><text x="1342.5" y="1002">19</text><text x="1342.5" y="1054">20</text><text x="1342.5" y="1106">21</text><text x="1342.5" y="1158">22</text><text x="1342.5" y="1210">23</text><text x="1342.5" y="1262">24</text><text x="1342.5" y="1314">25</text><text x="1342.5" y="1366">26</text><text x="1342.5" y="1418">27</text><text x="1342.5" y="1470">28</text><text x="1342.5" y="1522">29</text><text x="1342.5" y="1574">30</text><text x="1342.5" y="1626">31</text><text x="1342.5" y="1678">32</text><text x="1342.5" y="1730">33</text><text x="1342.5" y="1782">34</text><text x="1342.5" y="1834">35</text><text x="1342.5" y="1886">36</text><text x="1342.5" y="1938">37</text><text x="1342.5" y="1990">38</text><text x="1342.5" y="2042">39</text><text x="1342.5" y="2094">40</text><text x="1342.5" y="2146">41</text><text x="1342.5" y="2198">42</text><text x="1342.5" y="2250">43</text><text x="1342.5" y="2302">44</text><text x="1342.5" y="2354">45</text><text x="1342.5" y="2406">46</text><text x="1342.5" y="2458">47</text><text x="1342.5" y="2510">48</text><text x="1342.5" y="2562">49</text><text x="1342.5" y="2614">50</text>
</g>
</g>
<text id="watermark" x="604" y="1342" font-family="'Liberation Sans',Arial,sans-serif" font-weight="bold" font-size="15" fill="#333" stroke="#fff" stroke-width="1.5" paint-order="stroke" textLength="157" lengthAdjust="spacingAndGlyphs">BRACELETBOOK.COM</text>
</svg>
